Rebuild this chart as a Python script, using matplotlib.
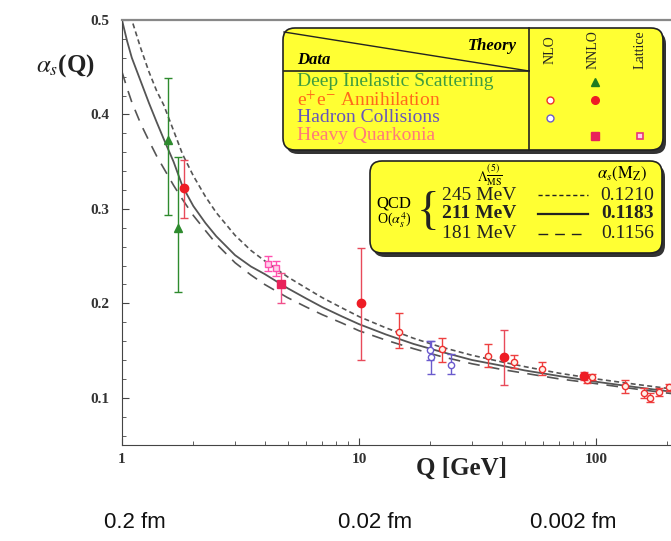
import matplotlib
matplotlib.use("Agg")
import matplotlib.pyplot as plt
from matplotlib.patches import FancyBboxPatch
from matplotlib.ticker import FixedLocator, MultipleLocator, FuncFormatter

plt.rcParams['font.family'] = 'Liberation Serif'
plt.rcParams['mathtext.fontset'] = 'stix'

# --- theory curves ---
curve_q = [1.0, 1.05, 1.1, 1.2, 1.3, 1.4, 1.5, 1.65, 1.8, 2.0, 2.25, 2.5, 3.0, 3.5, 4.0, 5.0, 6.0, 7.0,
           8.5, 10, 13, 17, 22, 30, 40, 50, 70, 100, 150, 200, 300]
curve_245 = [0.56, 0.53, 0.50, 0.47, 0.445, 0.425, 0.41, 0.383, 0.358, 0.335, 0.313, 0.296, 0.272, 0.256,
             0.245, 0.228, 0.216, 0.206, 0.195, 0.186, 0.174, 0.163, 0.154, 0.145, 0.138, 0.133, 0.126,
             0.120, 0.114, 0.110, 0.105]
curve_211 = [0.50, 0.478, 0.46, 0.435, 0.412, 0.392, 0.374, 0.350, 0.324, 0.303, 0.285, 0.271, 0.251, 0.239,
             0.231, 0.216, 0.205, 0.196, 0.186, 0.178, 0.167, 0.157, 0.149, 0.140, 0.134, 0.129, 0.123,
             0.117, 0.111, 0.107, 0.102]
curve_181 = [0.445, 0.428, 0.413, 0.39, 0.372, 0.356, 0.343, 0.325, 0.310, 0.293, 0.277, 0.263, 0.243, 0.230,
             0.220, 0.206, 0.196, 0.188, 0.179, 0.171, 0.161, 0.152, 0.144, 0.136, 0.130, 0.126, 0.120,
             0.115, 0.109, 0.105, 0.100]

# --- data points: Q, alpha_s, lower end, upper end of error bar ---
dis_q = [1.57, 1.73]
dis_a = [0.373, 0.280]
dis_lo = [0.294, 0.212]
dis_hi = [0.439, 0.355]

ee_nnlo_q = [1.83, 10.2, 41.1, 89.0]
ee_nnlo_a = [0.322, 0.200, 0.143, 0.123]
ee_nnlo_lo = [0.290, 0.140, 0.114, 0.119]
ee_nnlo_hi = [0.352, 0.259, 0.172, 0.127]

ee_nlo_q = [14.8, 22.3, 35.2, 44.9, 59.0, 92.0, 96.0, 133.0, 160.0, 169.0, 185.0, 204.0]
ee_nlo_a = [0.170, 0.152, 0.144, 0.138, 0.131, 0.119, 0.122, 0.112, 0.105, 0.100, 0.106, 0.111]
ee_nlo_lo = [0.153, 0.138, 0.133, 0.132, 0.124, 0.116, 0.119, 0.105, 0.100, 0.096, 0.102, 0.107]
ee_nlo_hi = [0.190, 0.163, 0.157, 0.145, 0.138, 0.122, 0.125, 0.119, 0.110, 0.105, 0.110, 0.115]

had_q = [19.9, 20.2, 24.5]
had_a = [0.151, 0.143, 0.135]
had_lo = [0.140, 0.125, 0.125]
had_hi = [0.160, 0.160, 0.146]

lat_q = [4.15, 4.45]
lat_a = [0.242, 0.237]
lat_lo = [0.234, 0.229]
lat_hi = [0.250, 0.245]

hq_q = [4.67]
hq_a = [0.220]
hq_lo = [0.200]
hq_hi = [0.232]

y_ticks = [0.1, 0.2, 0.3, 0.4, 0.5]
x_ticks = [1, 10, 100]
x_ticklabels = ['1', '10', '100']
fm_labels = ['0.2 fm', '0.02 fm', '0.002 fm']
lambdas = ['245 MeV', '211 MeV', '181 MeV']
as_mz = ['0.1210', '0.1183', '0.1156']
rows = ['Deep Inelastic Scattering', 'e$^{+}$e$^{-}$ Annihilation', 'Hadron Collisions', 'Heavy Quarkonia']
row_colors = ['#3f9c3f', '#ff6a1a', '#6655bb', '#ff7a7a']

W, H = 671, 541
fig = plt.figure(figsize=(W / 100, H / 100), dpi=100)
# main axes, running past the right edge (the original is cropped)
ax = fig.add_axes([122 / W, 96 / H, 587 / W, 425 / H])
ax.set_xscale('log')
ax.set_xlim(1, 300)
ax.set_ylim(0.05, 0.5)

lc = '#555555'
ax.plot(curve_q, curve_245, color=lc, lw=1.2, dashes=(3, 2))
ax.plot(curve_q, curve_211, color=lc, lw=1.3)
ax.plot(curve_q, curve_181, color=lc, lw=1.2, dashes=(7, 5))


def errs(a, lo, hi):
    return [[v - l for v, l in zip(a, lo)], [h - v for v, h in zip(a, hi)]]


ax.errorbar(lat_q, lat_a, yerr=errs(lat_a, lat_lo, lat_hi), fmt='s', ms=4.5, mfc='#ffd0ea',
            mec='#ff4fae', color='#ff4fae', mew=1, elinewidth=1, capsize=3, zorder=4)
ax.errorbar(hq_q, hq_a, yerr=errs(hq_a, hq_lo, hq_hi), fmt='s', ms=5.5, mfc='#e8235a',
            mec='#e8235a', color='#f0508a', elinewidth=1, capsize=3, zorder=4)
ax.errorbar(dis_q, dis_a, yerr=errs(dis_a, dis_lo, dis_hi), fmt='^', ms=6, color='#2e8b2e',
            elinewidth=1, capsize=3, zorder=5)
ax.errorbar(ee_nlo_q, ee_nlo_a, yerr=errs(ee_nlo_a, ee_nlo_lo, ee_nlo_hi), fmt='o', ms=4.5,
            mfc='#fff0e8', mec='#ee3030', color='#ee4040', mew=1, elinewidth=1, capsize=3, zorder=4)
ax.errorbar(had_q, had_a, yerr=errs(had_a, had_lo, had_hi), fmt='o', ms=4.5, mfc='white',
            mec='#6a5acd', color='#6a5acd', mew=1, elinewidth=1, capsize=3, zorder=4)
ax.errorbar(ee_nnlo_q, ee_nnlo_a, yerr=errs(ee_nnlo_a, ee_nnlo_lo, ee_nnlo_hi), fmt='o', ms=6,
            color='#ee1c25', ecolor='#e84a5a', elinewidth=1, capsize=3, zorder=5)

ax.spines['top'].set_color('#888888')
ax.spines['top'].set_linewidth(1.6)
ax.spines['left'].set_color('#444444')
ax.spines['bottom'].set_color('#444444')
ax.yaxis.set_major_locator(FixedLocator(y_ticks))
ax.yaxis.set_minor_locator(MultipleLocator(0.02))
ax.yaxis.set_major_formatter(FuncFormatter(lambda v, p: '%.1f' % v))
ax.xaxis.set_major_locator(FixedLocator(x_ticks))
ax.set_xticklabels(x_ticklabels)
ax.tick_params(which='both', direction='in', color='#444444')
ax.tick_params(which='major', length=5, labelsize=11)
ax.tick_params(which='minor', length=3)
ax.tick_params(axis='y', pad=9)
ax.tick_params(axis='x', pad=6)
for t in ax.get_xticklabels() + ax.get_yticklabels():
    t.set_fontweight('bold')
    t.set_color('#333333')

# overlay in pixel coordinates for labels and the two legend boxes
ov = fig.add_axes([0, 0, 1, 1])
ov.set_xlim(0, W)
ov.set_ylim(H, 0)
ov.axis('off')

ov.text(65, 66, r'$\alpha_{s}$(Q)', fontsize=18, fontweight='bold', ha='center', va='center', color='#222222')
ov.text(462, 468, 'Q [GeV]', fontsize=18, fontweight='bold', ha='center', va='center', color='#222222')
for x, lab, ha in zip([135, 375, 530], fm_labels, ['center', 'center', 'left']):
    ov.text(x, 522, lab, fontsize=16, family='Liberation Sans', ha=ha, va='center', color='#111111')

yellow = '#ffff33'


def box(x0, y0, x1, y1):
    ov.add_patch(FancyBboxPatch((x0 + 3, y0 + 4), x1 - x0, y1 - y0,
                                boxstyle='round,pad=0,rounding_size=12', fc='#333333', ec='none'))
    ov.add_patch(FancyBboxPatch((x0, y0), x1 - x0, y1 - y0,
                                boxstyle='round,pad=0,rounding_size=12', fc=yellow, ec='#222222', lw=1.2))


# box 1: data / theory table
box(283, 28, 663, 150)
ov.plot([284, 529], [32, 71], color='#222222', lw=1)
ov.plot([284, 529], [71, 71], color='#222222', lw=1.2)
ov.plot([529, 529], [28, 150], color='#222222', lw=1.2)
ov.text(517, 46, 'Theory', fontsize=12, fontweight='bold', style='italic', ha='right', va='center')
ov.text(297, 60, 'Data', fontsize=12, fontweight='bold', style='italic', ha='left', va='center')
for x, lab in zip([550, 593, 640], ['NLO', 'NNLO', 'Lattice']):
    ov.text(x, 50, lab, fontsize=10, rotation=90, ha='center', va='center', color='#222222')
for y, lab, c in zip([82, 100, 118, 136], rows, row_colors):
    ov.text(297, y, lab, fontsize=14, color=c, ha='left', va='center')
ov.plot([595], [82], '^', ms=5.5, color='#1f7a1f')
ov.plot([550], [100], 'o', ms=5, mfc='white', mec='#ee3030', mew=1)
ov.plot([595], [100], 'o', ms=5.5, color='#ee1c25')
ov.plot([550], [118], 'o', ms=5, mfc='white', mec='#6a5acd', mew=1)
ov.plot([595], [136], 's', ms=5.5, color='#e8235a')
ov.plot([640], [136], 's', ms=5, mfc='#ffd0ea', mec='#e8357a', mew=1.2)

# box 2: QCD curves
box(370, 161, 662, 253)
ov.text(490, 175, r'$\Lambda^{(5)}_{\overline{\rm MS}}$', fontsize=10, ha='center', va='center')
ov.text(622, 174, r'$\alpha_s(\mathrm{M_Z})$', fontsize=12, ha='center', va='center')
ov.text(394, 203, 'QCD', fontsize=12, ha='center', va='center')
ov.text(394, 220, r'O($\alpha_s^4$)', fontsize=10, ha='center', va='center')
ov.text(428, 213, '{', fontsize=34, ha='center', va='center', color='#222222')
dash_styles = [(3, 2), None, (7, 5)]
for y, lam, v, ds, w in zip([195, 214, 234], lambdas, as_mz, dash_styles, ['normal', 'bold', 'normal']):
    ov.text(442, y, lam, fontsize=14, fontweight=w, ha='left', va='center', color='#222222')
    ln, = ov.plot([538, 588], [y, y], color='#222222', lw=1.6 if w == 'bold' else 1)
    if ds:
        ln.set_dashes(ds)
    ov.text(654, y, v, fontsize=14, fontweight=w, ha='right', va='center', color='#222222')

fig.savefig('out.png', dpi=100)
